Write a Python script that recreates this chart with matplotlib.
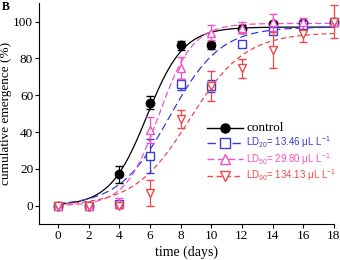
import numpy as np
import matplotlib
matplotlib.use("Agg")
import matplotlib.pyplot as plt

plt.rcParams['font.family'] = ['Liberation Serif', 'DejaVu Serif']
plt.rcParams['mathtext.fontset'] = 'custom'
plt.rcParams['mathtext.rm'] = 'Liberation Sans'
plt.rcParams['mathtext.it'] = 'Liberation Sans'

days = [0, 2, 4, 6, 8, 10, 12, 14, 16, 18]

control = [0, 0, 17, 56, 87, 87, 96, 98.5, 99, 100]
control_err = [0.5, 0.5, 4.7, 3.5, 2.5, 2, 2, 2, 1.5, 1.5]

ld20 = [0, 0, 1, 27, 66, 65, 88, 95, 98, 100]
ld20_err = [0.5, 0.5, 1, 9, 3, 3, 1.5, 2, 2, 1.5]

ld50 = [0, 0, 1.6, 41, 75, 94, 96.7, 99.5, 100, 100]
ld50_err = [0.5, 0.5, 2.8, 7, 6, 4, 3, 4.5, 2, 1.5]

ld90 = [0, 0, 0, 7, 47, 65, 74.5, 84.5, 93.4, 100]
ld90_err = [0.5, 0.5, 1, 7, 5, 8, 5, 10, 4.5, 9]

# fitted logistic parameters: asymptote, midpoint, slope scale
fit_control = [97, 5.8, 1.2]
fit_ld20 = [97, 7.3, 1.65]
fit_ld50 = [99, 6.6, 1.1]
fit_ld90 = [94, 8.6, 1.8]

labels = ['control',
          r'LD$_{20}$= 13.46 μL L$^{-1}$',
          r'LD$_{50}$= 29.80 μL L$^{-1}$',
          r'LD$_{90}$= 134.13 μL L$^{-1}$']
colors = ['black', '#3a3ad8', '#f050c8', '#f04848']
markers = ['o', 's', '^', 'v']
dashes = [None, (6, 3), (5, 2.5), (4, 2.5)]

fig = plt.figure(figsize=(3.4, 2.6), dpi=100)
ax = fig.add_axes([0.116, 0.138, 0.866, 0.85])

xs = np.linspace(0, 18, 300)
series = [control, ld20, ld50, ld90]
errs = [control_err, ld20_err, ld50_err, ld90_err]
fits = [fit_control, fit_ld20, fit_ld50, fit_ld90]

handles = []
for i in range(4):
    a, x0, b = fits[i]
    ys = a / (1 + np.exp(-(xs - x0) / b))
    ls = '-' if dashes[i] is None else (0, dashes[i])
    ax.plot(xs, ys, color=colors[i], lw=0.9, linestyle=ls, zorder=2)
    fc = 'black' if i == 0 else 'white'
    ax.errorbar(days, series[i], yerr=errs[i], fmt=markers[i], color=colors[i],
                mfc=fc, mec=colors[i], ms=5.5 if i else 6, mew=1.0,
                elinewidth=0.9, capsize=3, capthick=0.9, zorder=3 + i * 0.1,
                clip_on=False)
    h, = ax.plot([], [], color=colors[i], lw=1.0, linestyle=ls,
                 marker=markers[i], mfc=fc, mec=colors[i], ms=6.5, mew=1.0)
    handles.append(h)

leg = ax.legend(handles, labels, loc='lower right', bbox_to_anchor=(1.008, 0.186),
                frameon=False, handlelength=3.7, handletextpad=0.35,
                labelspacing=0.05, borderaxespad=0.0, borderpad=0.0, fontsize=7)
for i, t in enumerate(leg.get_texts()):
    t.set_color(colors[i])
    if i == 0:
        t.set_fontsize(9.5)
        t.set_family('Liberation Serif')
    else:
        t.set_family('Liberation Sans')

ax.set_xlim(-1.2, 18)
ax.set_ylim(-10, 110)
ax.set_xticks(range(0, 19, 2))
ax.set_yticks(range(0, 101, 20))
ax.spines['top'].set_visible(False)
ax.spines['right'].set_visible(False)
ax.tick_params(direction='out', length=3, labelsize=9.5, pad=1.5)
ax.set_xlabel('time (days)', fontsize=10, labelpad=2)
ax.set_ylabel('cumulative emergence (%)', fontsize=9.5, labelpad=1)

fig.text(0.005, 0.995, 'B', fontsize=8.5, fontweight='bold', va='top', ha='left')

fig.savefig('out.png', dpi=100)
